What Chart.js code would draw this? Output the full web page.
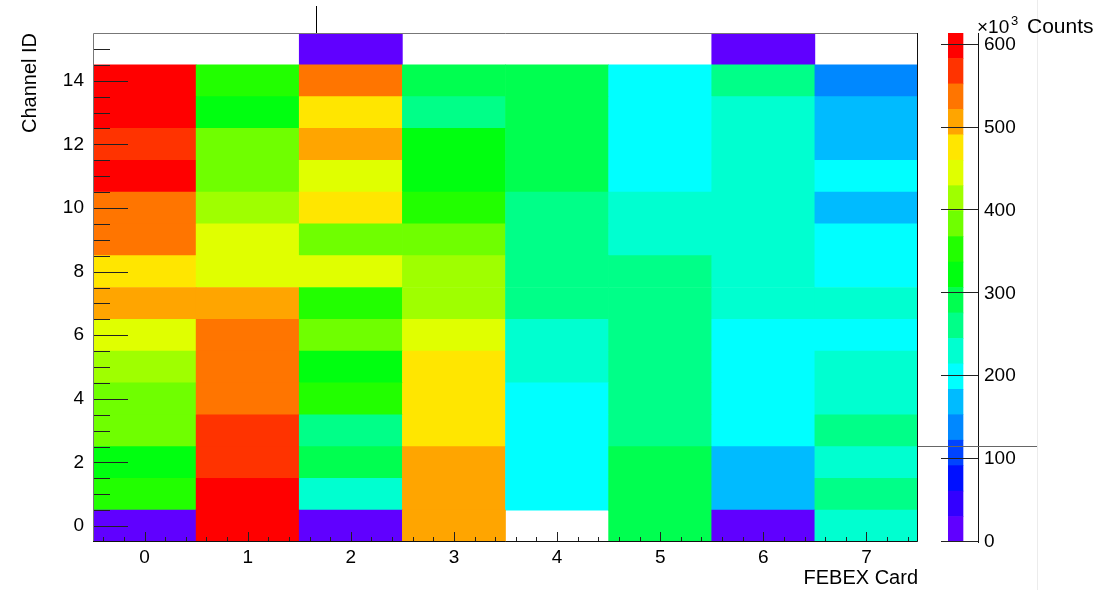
<!DOCTYPE html>
<html>
<head>
<meta charset="utf-8">
<script src="https://cdn.jsdelivr.net/npm/chart.js@4.4.1/dist/chart.umd.min.js"></script>
<style>
  body{margin:0;background:#fff;}
  #wrap{position:relative;width:1101px;height:590px;}
  #main{position:absolute;left:0;top:0;}
  #pal{position:absolute;left:918px;top:0;}
</style>
</head>
<body>
<div id="wrap">
  <canvas id="main" width="930" height="590"></canvas>
  <canvas id="pal" width="183" height="590"></canvas>
</div>
<script>
// FEBEX cards on x, channels on y, counts in thousands (0 = empty bin)
const cardLabels = ['0','1','2','3','4','5','6','7'];
const channelTicks = [0,2,4,6,8,10,12,14];
const countTicks = [0,100,200,300,400,500,600];

// counts per card, channel 0 -> 15
const card0 = [12, 350, 318, 386, 380, 416, 447, 503, 474, 540, 534, 600, 566, 596, 601, 0];
const card1 = [598, 603, 570, 565, 539, 535, 541, 508, 444, 448, 412, 382, 388, 325, 356, 0];
const card2 = [8, 232, 290, 259, 355, 320, 386, 351, 443, 381, 478, 446, 505, 472, 535, 17];
const card3 = [504, 509, 502, 478, 473, 475, 447, 415, 411, 383, 352, 324, 319, 262, 290, 0];
const card4 = [0, 198, 203, 201, 196, 228, 233, 262, 258, 263, 259, 291, 294, 289, 293, 0];
const card5 = [294, 290, 288, 262, 265, 259, 263, 260, 257, 231, 228, 201, 198, 203, 197, 0];
const card6 = [14, 170, 166, 199, 202, 197, 201, 229, 232, 228, 231, 227, 233, 230, 262, 11];
const card7 = [228, 263, 231, 259, 229, 233, 201, 228, 198, 202, 168, 200, 170, 166, 137, 0];
const counts = [card0, card1, card2, card3, card4, card5, card6, card7];

// colour scale (kRainBow-like, 20 levels)
const zMax = 614;
const palette = ['#6000ff','#3300ff','#0010ff','#0044ff','#0088ff','#00bbff','#00ffff','#00ffd0',
  '#00ff88','#00ff50','#00ff10','#22ff00','#6fff00','#9fff00','#e0ff00','#ffe600',
  '#ffa500','#ff7500','#ff3300','#ff0000'];

function colorFor(v){
  const k = Math.min(palette.length-1, Math.floor(v/zMax*palette.length));
  return palette[k];
}

const FONT = "'Liberation Sans', Arial, sans-serif";

const datasets = [];
for(let ch=0; ch<16; ch++){
  datasets.push({
    data: counts.map(c => c[ch] > 0 ? [ch-0.5, ch+0.5] : null),
    backgroundColor: counts.map(c => c[ch] > 0 ? colorFor(c[ch]) : 'rgba(0,0,0,0)'),
    borderWidth: 0,
    barPercentage: 1,
    categoryPercentage: 1,
    grouped: false
  });
}

// frame, inward ticks and the stray marker line
const mainDeco = {
  id: 'mainDeco',
  afterDraw(chart){
    const ctx = chart.ctx, a = chart.chartArea;
    const xs = chart.scales.x, ys = chart.scales.y;
    ctx.save();
    ctx.lineWidth = 1;
    ctx.strokeStyle = '#222';
    // y ticks every 0.5, long at labelled values
    for(let i=1; i<32; i++){
      const v = -0.5 + i*0.5;
      const y = Math.round(ys.getPixelForValue(v)) + 0.5;
      const len = channelTicks.includes(v) ? 35 : 17;
      ctx.beginPath(); ctx.moveTo(a.left, y); ctx.lineTo(a.left+len, y); ctx.stroke();
    }
    // x ticks every 0.2, long at integers
    for(let i=-2; i<=37; i++){
      const v = i*0.2;
      if(v > 7.45) break;
      const x = Math.round(xs.getPixelForValue(v)) + 0.5;
      const len = (i % 5 === 0) ? 10 : 5;
      ctx.beginPath(); ctx.moveTo(x, a.bottom); ctx.lineTo(x, a.bottom-len); ctx.stroke();
    }
    // frame
    ctx.strokeStyle = '#777';
    ctx.beginPath(); ctx.moveTo(a.left+0.5, a.bottom); ctx.lineTo(a.left+0.5, a.top+0.5); ctx.lineTo(a.right, a.top+0.5); ctx.stroke();
    ctx.strokeStyle = '#111';
    ctx.beginPath(); ctx.moveTo(a.left, a.bottom-0.5); ctx.lineTo(a.right-0.5, a.bottom-0.5); ctx.lineTo(a.right-0.5, a.top); ctx.stroke();
    // stray line above the frame
    const sx = Math.round(xs.getPixelForValue(1.66)) + 0.5;
    ctx.strokeStyle = '#000';
    ctx.beginPath(); ctx.moveTo(sx, 6); ctx.lineTo(sx, a.top); ctx.stroke();
    ctx.restore();
  }
};

new Chart(document.getElementById('main'), {
  type: 'bar',
  data: { labels: cardLabels, datasets: datasets },
  options: {
    responsive: false,
    animation: false,
    layout: { padding: { top: 33, right: 12, left: 0, bottom: 0 } },
    plugins: { legend: { display: false }, tooltip: { enabled: false } },
    scales: {
      x: {
        type: 'category',
        offset: true,
        grid: { display: false, drawTicks: false },
        border: { display: false },
        ticks: { color: '#000', font: { family: FONT, size: 19 }, padding: 4, maxRotation: 0 },
        title: { display: true, text: 'FEBEX Card', align: 'end', color: '#000',
                 font: { family: FONT, size: 20 }, padding: { top: 0, bottom: 0 } },
        afterFit: s => { s.height = 48; }
      },
      y: {
        type: 'linear',
        min: -0.5, max: 15.5,
        grid: { display: false, drawTicks: false },
        border: { display: false },
        afterBuildTicks: s => { s.ticks = channelTicks.map(v => ({ value: v })); },
        ticks: { color: '#000', font: { family: FONT, size: 19 }, padding: 9 },
        title: { display: true, text: 'Channel ID', align: 'end', color: '#000',
                 font: { family: FONT, size: 20 }, padding: { top: 18, bottom: 0 } },
        afterFit: s => { s.width = 93; }
      }
    }
  },
  plugins: [mainDeco]
});

// colour bar
const step = zMax / palette.length;
const palSets = palette.map((c, i) => ({
  data: [[i*step, (i+1)*step]],
  backgroundColor: c,
  borderWidth: 0,
  barPercentage: 1,
  categoryPercentage: 1,
  grouped: false
}));

const palDeco = {
  id: 'palDeco',
  afterDraw(chart){
    const ctx = chart.ctx, a = chart.chartArea, ys = chart.scales.y;
    ctx.save();
    ctx.lineWidth = 1;
    ctx.strokeStyle = '#222';
    countTicks.forEach(v => {
      const y = Math.round(ys.getPixelForValue(v)) - 0.5;
      ctx.beginPath(); ctx.moveTo(a.left-7, y); ctx.lineTo(a.right, y); ctx.stroke();
    });
    // stray horizontal line and faint pad edge
    const hy = Math.round(ys.getPixelForValue(116)) + 0.5;
    ctx.strokeStyle = '#666';
    ctx.beginPath(); ctx.moveTo(0, hy); ctx.lineTo(119, hy); ctx.stroke();
    ctx.strokeStyle = '#ececec';
    ctx.beginPath(); ctx.moveTo(119.5, 0); ctx.lineTo(119.5, 590); ctx.stroke();
    // axis title
    ctx.fillStyle = '#000';
    ctx.textBaseline = 'alphabetic';
    ctx.font = '19px ' + FONT;
    ctx.fillText('\u00d710', 59, 33);
    ctx.font = '13px ' + FONT;
    ctx.fillText('3', 93, 25);
    ctx.font = '21px ' + FONT;
    ctx.fillText('Counts', 109, 33);
    ctx.restore();
  }
};

new Chart(document.getElementById('pal'), {
  type: 'bar',
  data: { labels: [''], datasets: palSets },
  options: {
    responsive: false,
    animation: false,
    layout: { padding: { top: 33, right: 0, left: 30, bottom: 48 } },
    plugins: { legend: { display: false }, tooltip: { enabled: false } },
    scales: {
      x: { display: false, offset: false },
      y: {
        position: 'right',
        min: 0, max: zMax,
        grid: { display: false, drawTicks: false },
        border: { display: true, color: '#111', width: 1 },
        afterBuildTicks: s => { s.ticks = countTicks.map(v => ({ value: v })); },
        ticks: { color: '#000', font: { family: FONT, size: 19 }, padding: 6 },
        afterFit: s => { s.width = 123; }
      }
    }
  },
  plugins: [palDeco]
});
</script>
</body>
</html>
